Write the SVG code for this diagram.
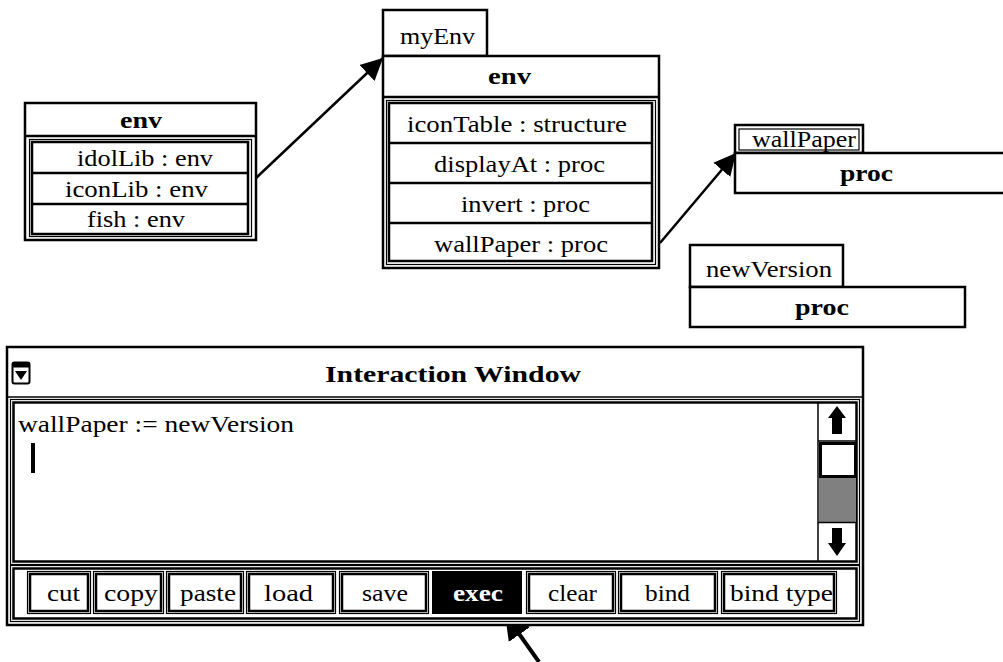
<svg xmlns="http://www.w3.org/2000/svg" width="1003" height="662" viewBox="0 0 1003 662">
<style>
text{font-family:"Liberation Serif","Times New Roman",serif;font-size:24px;fill:#000}
.b{font-weight:bold;font-size:23px}
.w{fill:#fff}
.box{fill:#fff;stroke:#000;stroke-width:2.5}
.thin{fill:none;stroke:#000;stroke-width:1.2}
.thick{fill:none;stroke:#000;stroke-width:2.5}
.ln{stroke:#000;stroke-width:2.5}
.conn{stroke:#000;stroke-width:2.5;fill:none}
</style>
<defs>
<marker id="ah" markerUnits="userSpaceOnUse" markerWidth="24" markerHeight="24" refX="22" refY="11" orient="auto" viewBox="0 0 24 22">
<path d="M0,0 L22,11 L0,22 Z" fill="#000"/>
</marker>
<marker id="ah2" markerUnits="userSpaceOnUse" markerWidth="28" markerHeight="28" refX="25" refY="13" orient="auto" viewBox="0 0 28 26">
<path d="M0,0 L25,13 L0,26 Z" fill="#000"/>
</marker>
</defs>

<g id="connectors">
<line class="conn" x1="256" y1="178" x2="383" y2="58" marker-end="url(#ah)"/>
<line class="conn" x1="660" y1="243" x2="736" y2="153" marker-end="url(#ah)"/>
<line class="conn" style="stroke-width:4" x1="539" y1="662" x2="505" y2="614" marker-end="url(#ah2)"/>
</g>

<g id="env-left">
<rect class="box" x="25" y="103" width="231" height="137"/>
<line class="ln" x1="25" y1="136" x2="256" y2="136"/>
<text class="b" x="120" y="128" textLength="42" lengthAdjust="spacingAndGlyphs">env</text>
<rect class="thin" x="29.5" y="139.5" width="222" height="97"/>
<rect class="thick" x="32" y="142" width="216" height="92"/>
<line class="ln" x1="32" y1="173" x2="248" y2="173"/>
<line class="ln" x1="32" y1="204" x2="248" y2="204"/>
<text x="77" y="166" textLength="136" lengthAdjust="spacingAndGlyphs">idolLib : env</text>
<text x="65" y="197" textLength="143" lengthAdjust="spacingAndGlyphs">iconLib : env</text>
<text x="87" y="227" textLength="98" lengthAdjust="spacingAndGlyphs">fish : env</text>
</g>

<g id="myEnv">
<rect class="box" x="383" y="10" width="104" height="46"/>
<text x="400" y="44" textLength="75" lengthAdjust="spacingAndGlyphs">myEnv</text>
<rect class="box" x="383" y="56" width="276" height="212"/>
<line class="ln" x1="383" y1="97" x2="659" y2="97"/>
<text class="b" x="488" y="84" textLength="43" lengthAdjust="spacingAndGlyphs">env</text>
<rect class="thin" x="386.5" y="100.5" width="269" height="164"/>
<rect class="thick" x="389" y="103" width="263" height="158"/>
<line class="ln" x1="389" y1="143" x2="652" y2="143"/>
<line class="ln" x1="389" y1="183" x2="652" y2="183"/>
<line class="ln" x1="389" y1="223" x2="652" y2="223"/>
<text x="407" y="132" textLength="220" lengthAdjust="spacingAndGlyphs">iconTable : structure</text>
<text x="434" y="172" textLength="171" lengthAdjust="spacingAndGlyphs">displayAt : proc</text>
<text x="461" y="212" textLength="129" lengthAdjust="spacingAndGlyphs">invert : proc</text>
<text x="434" y="252" textLength="174" lengthAdjust="spacingAndGlyphs">wallPaper : proc</text>
</g>

<g id="wallPaper">
<rect class="box" x="735" y="125" width="128" height="28"/>
<rect class="thin" x="739" y="129" width="120" height="21"/>
<text x="752" y="147" textLength="104" lengthAdjust="spacingAndGlyphs">wallPaper</text>
<path class="box" d="M1010,153 L735,153 L735,193 L1010,193"/>
<text class="b" x="840" y="181" textLength="53" lengthAdjust="spacingAndGlyphs">proc</text>
</g>

<g id="newVersion">
<rect class="box" x="690" y="245" width="153" height="42"/>
<text x="706" y="277" textLength="126" lengthAdjust="spacingAndGlyphs">newVersion</text>
<rect class="box" x="690" y="287" width="275" height="40"/>
<text class="b" x="795" y="315" textLength="54" lengthAdjust="spacingAndGlyphs">proc</text>
</g>

<g id="interaction-window">
<rect class="box" x="7" y="347" width="856" height="278"/>
<line class="ln" style="stroke-width:1.5" x1="7" y1="397" x2="863" y2="397"/>
<g id="close-icon">
<rect x="12.5" y="362.5" width="17" height="21" rx="2" fill="#fff" stroke="#000" stroke-width="2"/>
<rect x="12.5" y="362.5" width="17" height="5" fill="#000"/>
<path d="M15,371 L27,371 L21,380 Z" fill="#000"/>
</g>
<text class="b" x="325" y="382" textLength="256" lengthAdjust="spacingAndGlyphs">Interaction Window</text>
<rect class="thin" x="10.5" y="399.5" width="849" height="165"/>
<rect class="thick" x="13.5" y="402.5" width="843" height="159"/>
<text x="18" y="432" textLength="276" lengthAdjust="spacingAndGlyphs">wallPaper := newVersion</text>
<rect x="31" y="443" width="4" height="30" fill="#000"/>
<g id="scrollbar">
<line class="ln" style="stroke-width:1.5" x1="818" y1="402" x2="818" y2="561"/>
<line class="ln" style="stroke-width:1.5" x1="818" y1="441" x2="857" y2="441"/>
<path d="M837,406 L846,418 L842,418 L842,434 L832,434 L832,418 L828,418 Z" fill="#000"/>
<rect x="820.5" y="443.5" width="35" height="33" fill="#fff" stroke="#000" stroke-width="3"/>
<rect x="819" y="478" width="37" height="44" fill="#808080"/>
<line class="ln" style="stroke-width:1.5" x1="818" y1="522.5" x2="857" y2="522.5"/>
<path d="M832,528 L842,528 L842,543 L846,543 L837,556 L828,543 L832,543 Z" fill="#000"/>
</g>
<g id="buttonbar">
<rect class="thin" x="10.5" y="565.5" width="849" height="56"/>
<rect class="thick" x="13.5" y="568.5" width="843" height="50"/>
</g>
<g id="btn-cut"><rect class="thin" x="27.5" y="571.5" width="63" height="42"/><rect class="thick" x="30" y="574" width="58" height="37"/><text x="47" y="601" textLength="33" lengthAdjust="spacingAndGlyphs">cut</text></g>
<g id="btn-copy"><rect class="thin" x="93.5" y="571.5" width="70" height="42"/><rect class="thick" x="96" y="574" width="65" height="37"/><text x="104" y="601" textLength="54" lengthAdjust="spacingAndGlyphs">copy</text></g>
<g id="btn-paste"><rect class="thin" x="166.5" y="571.5" width="77" height="42"/><rect class="thick" x="169" y="574" width="72" height="37"/><text x="180" y="601" textLength="56" lengthAdjust="spacingAndGlyphs">paste</text></g>
<g id="btn-load"><rect class="thin" x="246.5" y="571.5" width="89" height="42"/><rect class="thick" x="249" y="574" width="84" height="37"/><text x="264" y="601" textLength="49" lengthAdjust="spacingAndGlyphs">load</text></g>
<g id="btn-save"><rect class="thin" x="339.5" y="571.5" width="89" height="42"/><rect class="thick" x="342" y="574" width="84" height="37"/><text x="362" y="601" textLength="46" lengthAdjust="spacingAndGlyphs">save</text></g>
<g id="btn-exec"><rect x="432" y="571" width="90" height="43" fill="#000"/><text class="b w" x="453" y="601" textLength="50" lengthAdjust="spacingAndGlyphs">exec</text></g>
<g id="btn-clear"><rect class="thin" x="526.5" y="571.5" width="89" height="42"/><rect class="thick" x="529" y="574" width="84" height="37"/><text x="548" y="601" textLength="49" lengthAdjust="spacingAndGlyphs">clear</text></g>
<g id="btn-bind"><rect class="thin" x="618.5" y="571.5" width="99" height="42"/><rect class="thick" x="621" y="574" width="94" height="37"/><text x="645" y="601" textLength="45" lengthAdjust="spacingAndGlyphs">bind</text></g>
<g id="btn-bindtype"><rect class="thin" x="721.5" y="571.5" width="115" height="42"/><rect class="thick" x="724" y="574" width="110" height="37"/><text x="730" y="601" textLength="103" lengthAdjust="spacingAndGlyphs">bind type</text></g>
</g>
</svg>
